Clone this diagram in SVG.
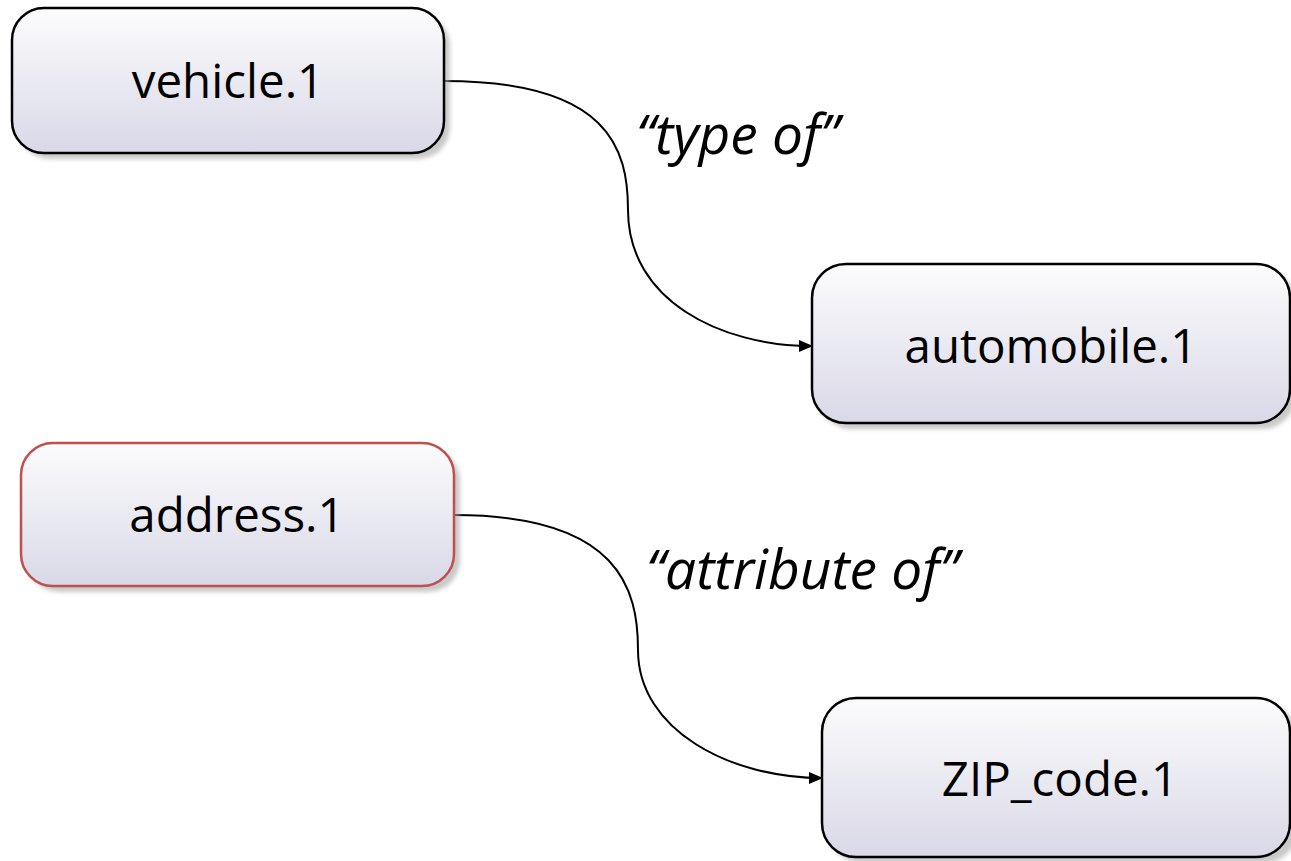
<svg xmlns="http://www.w3.org/2000/svg" width="1291" height="861" viewBox="0 0 1291 861">
<style>
.box{fill:url(#g);stroke:#000;stroke-width:2.5}
.red{stroke:#c0504d}
.sh{fill:#a6a6a6;opacity:0.6}
.t{font-family:"Open Sans","Noto Sans",sans-serif;font-size:47.5px;fill:#000;text-anchor:middle}
.lbl{font-family:"Open Sans","Noto Sans",sans-serif;font-size:55px;font-style:italic;fill:#000}
.c{fill:none;stroke:#000;stroke-width:2}
</style>
<defs>
<linearGradient id="g" x1="0" y1="0" x2="0" y2="1">
<stop offset="0" stop-color="#fcfcfd"/>
<stop offset="1" stop-color="#d9d8e7"/>
</linearGradient>
<filter id="b" x="-5%" y="-5%" width="110%" height="120%"><feGaussianBlur stdDeviation="2"/></filter>
<marker id="a" markerWidth="14" markerHeight="12" refX="13" refY="6" orient="auto" markerUnits="userSpaceOnUse">
<path d="M0,0 L14,6 L0,12 Z" fill="#000"/>
</marker>
</defs>
<g id="connectors">
<path class="c" marker-end="url(#a)" d="M444,81 C610,81 628,150 628,210 C628,300 720,346 812,346"/>
<path class="c" marker-end="url(#a)" d="M454,515 C620,515 638,590 638,650 C638,730 730,778 822,778"/>
</g>
<g id="vehicle">
<rect class="sh" x="18" y="14" width="432" height="145" rx="32" filter="url(#b)"/>
<rect class="box" x="12" y="8" width="432" height="145" rx="32"/>
<text class="t" x="228" y="98">vehicle.1</text>
</g>
<g id="automobile">
<rect class="sh" x="818" y="270" width="478" height="159" rx="34" filter="url(#b)"/>
<rect class="box" x="812" y="264" width="478" height="159" rx="34"/>
<text class="t" x="1051" y="363">automobile.1</text>
</g>
<g id="address">
<rect class="sh" x="27" y="449" width="433" height="143" rx="32" filter="url(#b)"/>
<rect class="box red" x="21" y="443" width="433" height="143" rx="32"/>
<text class="t" x="237" y="532">address.1</text>
</g>
<g id="zip">
<rect class="sh" x="828" y="704" width="470" height="159" rx="34" filter="url(#b)"/>
<rect class="box" x="822" y="698" width="468" height="159" rx="34"/>
<text class="t" x="1060" y="796">ZIP_code.1</text>
</g>
<g id="labels">
<text class="lbl" x="636" y="154">“type of”</text>
<text class="lbl" x="646" y="589">“attribute of”</text>
</g>
</svg>
